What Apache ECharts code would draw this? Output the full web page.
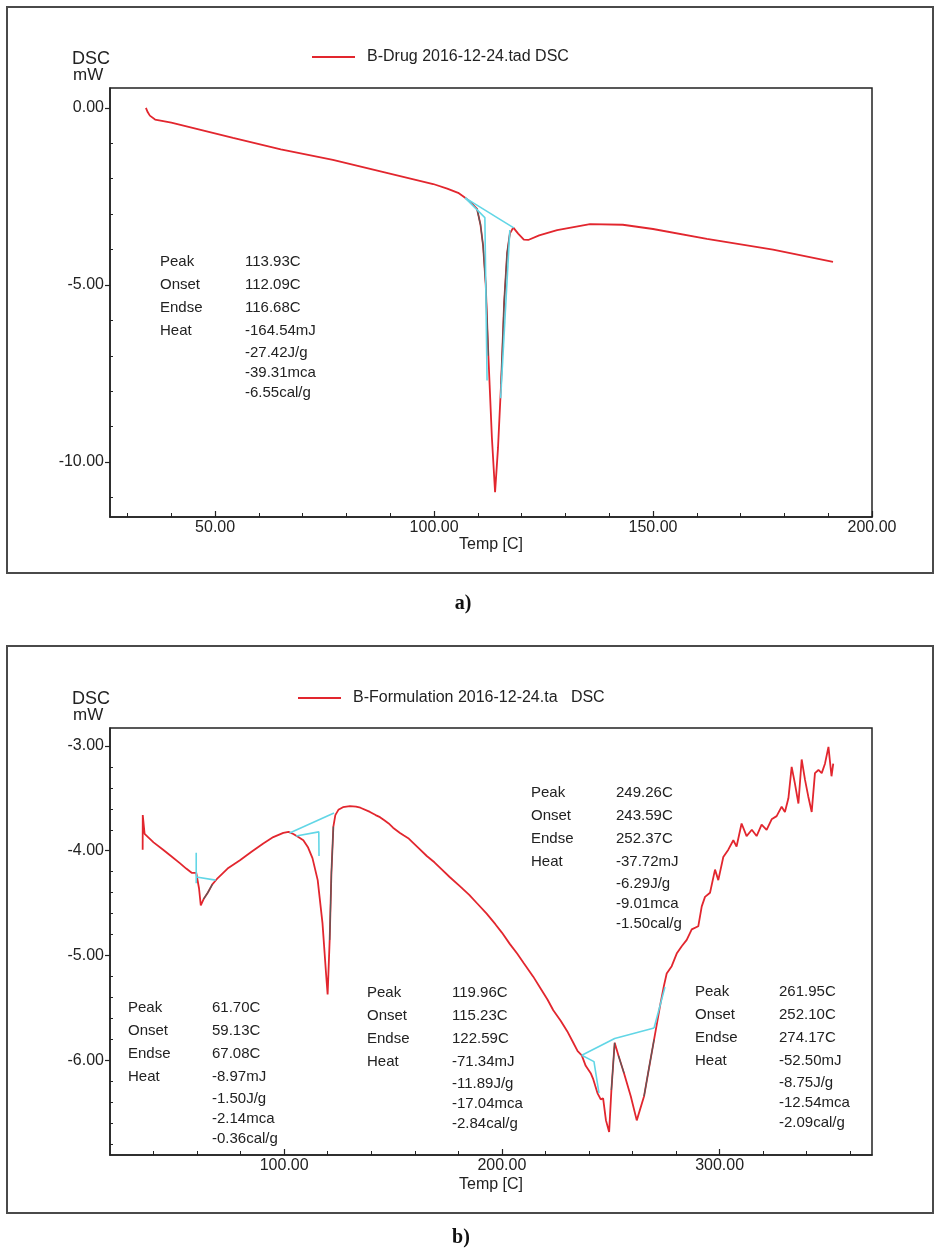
<!DOCTYPE html>
<html>
<head>
<meta charset="utf-8">
<title>DSC thermograms</title>
<script src="https://cdn.jsdelivr.net/npm/echarts@6/dist/echarts.min.js"></script>
<style>
html,body{margin:0;padding:0;background:#fff;}
#chart{width:940px;height:1254px;}
</style>
</head>
<body>
<div id="chart"></div>
<script>
// ---- pure drug trace: [temperature °C, heat flow mW] ----
const drugCurve = [
  [34.2,0.0],[34.6,-0.12],[35.1,-0.22],[36.3,-0.33],[40,-0.42],[54.1,-0.85],[65,-1.17],
  [76.9,-1.47],[88,-1.80],[99.8,-2.15],[103,-2.28],[105.5,-2.40],[107.1,-2.54],[108.5,-2.68],
  [109.8,-2.85],[110.6,-3.3],[111.2,-3.9],[111.8,-5.0],[112.4,-7.0],[113.2,-9.3],[113.93,-10.85],
  [114.6,-9.6],[115.3,-7.8],[116.0,-5.5],[116.68,-4.1],[117.3,-3.55],[118.1,-3.38],[119.2,-3.55],
  [120.5,-3.72],[121.5,-3.73],[124,-3.6],[128.1,-3.45],[135.6,-3.28],[143.1,-3.30],[150,-3.42],
  [162.3,-3.70],[177.4,-4.00],[191.1,-4.35]
];
// baseline and tangent constructions of the melting peak
const drugBaselines = [
  [[107.1,-2.54],[118.2,-3.39]],
  [[107.1,-2.54],[111.6,-3.1],[112.1,-7.7]],
  [[117.3,-3.45],[115.2,-8.2]]
];
// stretches of the trace inside the integration limits
const drugShadeRanges = [[109.8,112.4],[115.3,117.3]];
const drugPeakInfo = [
  ['Peak','113.93C'],['Onset','112.09C'],['Endse','116.68C'],['Heat','-164.54mJ'],
  ['','-27.42J/g'],['','-39.31mca'],['','-6.55cal/g']
];
const drugXLabels = [50,100,150,200];
const drugXMinor = [30,40,60,70,80,90,110,120,130,140,160,170,180,190];
const drugYLabels = [0,-5,-10];
const drugYMinor = [-11,-9,-8,-7,-6,-4,-3,-2,-1];

// ---- formulation trace: [temperature °C, heat flow mW] ----
const formulationCurve = [
  [35.0,-3.99],[35.05,-3.66],[35.9,-3.84],[40,-3.92],[44.4,-3.99],[48,-4.05],[52.2,-4.12],
  [55,-4.17],[57.5,-4.21],[59.6,-4.21],[60.9,-4.36],[61.7,-4.52],[63,-4.46],[64.9,-4.40],
  [67,-4.32],[69.5,-4.26],[74,-4.17],[79.7,-4.09],[85,-4.01],[90.4,-3.93],[95,-3.87],
  [99.6,-3.83],[102,-3.82],[104.2,-3.84],[106.5,-3.87],[108.8,-3.90],[111,-3.97],[113,-4.07],
  [115.4,-4.28],[117.6,-4.69],[119.2,-5.16],[119.96,-5.37],[120.9,-4.85],[121.7,-4.21],
  [122.6,-3.77],[123.5,-3.66],[124.9,-3.61],[127,-3.585],[130.2,-3.575],[133,-3.58],[135,-3.59],
  [139.4,-3.63],[142,-3.66],[144,-3.68],[146,-3.71],[148,-3.74],[150,-3.78],[153.2,-3.83],
  [155,-3.855],[157,-3.88],[159,-3.92],[162,-3.98],[165.5,-4.05],[169,-4.11],[172,-4.17],
  [176,-4.25],[180.8,-4.34],[185,-4.42],[189,-4.51],[193,-4.60],[197,-4.70],[200,-4.78],
  [203.7,-4.89],[207,-4.98],[210,-5.07],[214.4,-5.20],[218,-5.32],[221,-5.42],[223.6,-5.52],
  [227,-5.62],[230,-5.72],[232.8,-5.83],[234.8,-5.91],[236.7,-5.95],[238.5,-6.05],[240.8,-6.12],
  [242,-6.18],[243.9,-6.31],[245.4,-6.37],[246.5,-6.36],[247.8,-6.57],[249.26,-6.68],
  [250.3,-6.28],[251.8,-5.83],[253.5,-5.95],[256.1,-6.12],[259.2,-6.34],[261.95,-6.57],
  [265.3,-6.34],[267.5,-6.08],[269.9,-5.80],[272.9,-5.45],[274.4,-5.29],[275.7,-5.17],
  [278.0,-5.10],[280.3,-4.98],[282.6,-4.91],[284.9,-4.85],[287.2,-4.75],[290.2,-4.72],
  [291.8,-4.53],[293.3,-4.44],[295.6,-4.40],[297.9,-4.18],[299.4,-4.28],[301.7,-4.06],
  [304.0,-3.99],[306.3,-3.90],[307.8,-3.96],[310.1,-3.74],[312.4,-3.86],[314.8,-3.80],
  [317.0,-3.86],[319.3,-3.75],[321.6,-3.80],[323.9,-3.70],[326.2,-3.67],[328.5,-3.58],
  [330.0,-3.63],[331.6,-3.50],[333.1,-3.20],[334.6,-3.36],[336.2,-3.55],[337.7,-3.13],
  [339.2,-3.32],[340.7,-3.48],[342.3,-3.63],[343.8,-3.26],[345.4,-3.23],[346.9,-3.26],
  [348.4,-3.17],[350.0,-3.01],[351.4,-3.29],[352.2,-3.17]
];
const formulationBaselines = [
  [[59.6,-4.02],[59.6,-4.31]],
  [[59.7,-4.25],[68.5,-4.28]],
  [[102.5,-3.83],[122.9,-3.64]],
  [[105.5,-3.86],[115.9,-3.82],[116.0,-4.05]],
  [[236.7,-5.95],[251.8,-5.79],[269.9,-5.69]],
  [[236.7,-5.95],[242.3,-6.01],[244.6,-6.31]],
  [[269.9,-5.69],[274.9,-5.30]]
];
const formulationShadeRanges = [[62,67],[120.5,123],[250.0,251.8],[253.5,256.5],[265,270]];
const formulationPeakInfo = [
  [['Peak','61.70C'],['Onset','59.13C'],['Endse','67.08C'],['Heat','-8.97mJ'],
   ['','-1.50J/g'],['','-2.14mca'],['','-0.36cal/g']],
  [['Peak','119.96C'],['Onset','115.23C'],['Endse','122.59C'],['Heat','-71.34mJ'],
   ['','-11.89J/g'],['','-17.04mca'],['','-2.84cal/g']],
  [['Peak','249.26C'],['Onset','243.59C'],['Endse','252.37C'],['Heat','-37.72mJ'],
   ['','-6.29J/g'],['','-9.01mca'],['','-1.50cal/g']],
  [['Peak','261.95C'],['Onset','252.10C'],['Endse','274.17C'],['Heat','-52.50mJ'],
   ['','-8.75J/g'],['','-12.54mca'],['','-2.09cal/g']]
];
const formulationXLabels = [100,200,300];
const formulationXMinor = [40,60,80,120,140,160,180,220,240,260,280,320,340,360];
const formulationYLabels = [-3,-4,-5,-6];
const formulationYMinor = [-6.8,-6.6,-6.4,-6.2,-5.8,-5.6,-5.4,-5.2,-4.8,-4.6,-4.4,-4.2,
  -3.8,-3.6,-3.4,-3.2];

const drugName = 'B-Drug 2016-12-24.tad DSC';
const formulationName = 'B-Formulation 2016-12-24.ta   DSC';

// ---- styling ----
const FONT = '"Liberation Sans", Arial, sans-serif';
const INK = '#222';
const RED = '#e2262e';
const CYAN = '#62d6e6';
const SHADE = '#5a5a5a';

const chart = echarts.init(document.getElementById('chart'), null, {renderer: 'canvas'});

function valueAxis(gridIndex, min, max, opts) {
  return Object.assign({
    type: 'value', gridIndex: gridIndex, min: min, max: max,
    splitLine: {show: false}
  }, opts);
}

function majorX(gridIndex, min, max, labels, name, nameGap) {
  return valueAxis(gridIndex, min, max, {
    position: 'bottom',
    axisLine: {show: true, onZero: false, lineStyle: {color: INK, width: 1.5}},
    axisTick: {show: true, inside: true, length: 6, customValues: labels,
      lineStyle: {color: INK, width: 1.2}},
    axisLabel: {customValues: labels, margin: 3, fontSize: 16, fontFamily: FONT, color: INK,
      formatter: v => v.toFixed(2)},
    name: name, nameLocation: 'middle', nameGap: nameGap,
    nameTextStyle: {fontSize: 16, fontFamily: FONT, color: INK}
  });
}
function minorX(gridIndex, min, max, ticks) {
  return valueAxis(gridIndex, min, max, {
    position: 'bottom',
    axisLine: {show: false, onZero: false},
    axisTick: {show: true, inside: true, length: 4, customValues: ticks,
      lineStyle: {color: INK, width: 1}},
    axisLabel: {show: false}
  });
}
function majorY(gridIndex, min, max, labels) {
  return valueAxis(gridIndex, min, max, {
    position: 'left',
    axisLine: {show: true, onZero: false, lineStyle: {color: INK, width: 1.5}},
    axisTick: {show: true, inside: false, length: 5, customValues: labels,
      lineStyle: {color: INK, width: 1.2}},
    axisLabel: {customValues: labels, margin: 6, fontSize: 16, fontFamily: FONT, color: INK,
      formatter: v => v.toFixed(2)}
  });
}
function minorY(gridIndex, min, max, ticks) {
  return valueAxis(gridIndex, min, max, {
    position: 'left',
    axisLine: {show: false, onZero: false},
    axisTick: {show: true, inside: true, length: 3, customValues: ticks,
      lineStyle: {color: INK, width: 1}},
    axisLabel: {show: false}
  });
}

function lineSeries(name, data, xi, yi, color, width, z) {
  return {
    type: 'line', name: name, data: data, xAxisIndex: xi, yAxisIndex: yi,
    symbol: 'none', showSymbol: false, smooth: false, z: z, silent: true,
    lineStyle: {color: color, width: width}, itemStyle: {color: color}
  };
}
function shadeSeries(curve, ranges, xi, yi) {
  return ranges.map(r => lineSeries('', curve.filter(p => p[0] >= r[0] && p[0] <= r[1]),
    xi, yi, SHADE, 1.3, 3));
}
function baselineSeries(segments, xi, yi) {
  return segments.map(s => lineSeries('', s, xi, yi, CYAN, 1.6, 4));
}

// text block of peak evaluation results
const ROW_OFFSETS = [0, 23, 46, 69, 91, 111, 131];
function infoBlock(rows, labelX, valueX, topY) {
  const out = [];
  rows.forEach((r, i) => {
    const y = topY + ROW_OFFSETS[i];
    if (r[0]) out.push({type: 'text', x: labelX, y: y,
      style: {text: r[0], font: '15px ' + FONT, fill: INK, verticalAlign: 'middle'}});
    out.push({type: 'text', x: valueX, y: y,
      style: {text: r[1], font: '15px ' + FONT, fill: INK, verticalAlign: 'middle'}});
  });
  return out;
}
function unitLabel(x, y) {
  return [
    {type: 'text', x: x, y: y, style: {text: 'DSC', font: '18px ' + FONT, fill: INK, verticalAlign: 'middle'}},
    {type: 'text', x: x + 1, y: y + 16, style: {text: 'mW', font: '17px ' + FONT, fill: INK, verticalAlign: 'middle'}}
  ];
}
function frame(x, y, w, h) {
  return {type: 'rect', shape: {x: x, y: y, width: w, height: h}, silent: true,
    style: {fill: 'none', stroke: '#4a4a4a', lineWidth: 2}};
}
function caption(text, x, y) {
  return {type: 'text', x: x, y: y, style: {text: text, font: 'bold 20px "Liberation Serif", "Times New Roman", serif',
    fill: '#111', align: 'center', verticalAlign: 'middle'}};
}

const legendBase = {
  orient: 'horizontal', padding: 0, icon: 'rect', itemWidth: 43, itemHeight: 2,
  selectedMode: false,
  textStyle: {fontSize: 16, fontFamily: FONT, color: INK, padding: [0, 0, 0, 7]}
};

const option = {
  animation: false,
  backgroundColor: '#fff',
  grid: [
    {left: 110, top: 88, width: 762, height: 429, show: true, borderColor: INK, borderWidth: 1.5,
      backgroundColor: 'transparent'},
    {left: 110, top: 728, width: 762, height: 427, show: true, borderColor: INK, borderWidth: 1.5,
      backgroundColor: 'transparent'}
  ],
  legend: [
    Object.assign({}, legendBase, {data: [drugName], left: 312, top: 49}),
    Object.assign({}, legendBase, {data: [formulationName], left: 298, top: 690})
  ],
  xAxis: [
    majorX(0, 26, 200, drugXLabels, 'Temp [C]', 20),
    minorX(0, 26, 200, drugXMinor),
    majorX(1, 20, 370, formulationXLabels, 'Temp [C]', 22),
    minorX(1, 20, 370, formulationXMinor)
  ],
  yAxis: [
    majorY(0, -11.55, 0.56, drugYLabels),
    minorY(0, -11.55, 0.56, drugYMinor),
    majorY(1, -6.9, -2.83, formulationYLabels),
    minorY(1, -6.9, -2.83, formulationYMinor)
  ],
  series: [
    lineSeries(drugName, drugCurve, 0, 0, RED, 1.8, 2),
    ...shadeSeries(drugCurve, drugShadeRanges, 0, 0),
    ...baselineSeries(drugBaselines, 0, 0),
    lineSeries(formulationName, formulationCurve, 2, 2, RED, 1.8, 2),
    ...shadeSeries(formulationCurve, formulationShadeRanges, 2, 2),
    ...baselineSeries(formulationBaselines, 2, 2)
  ],
  graphic: [
    frame(7, 7, 926, 566),
    frame(7, 646, 926, 567),
    ...unitLabel(72, 59),
    ...unitLabel(72, 699),
    ...infoBlock(drugPeakInfo, 160, 245, 262),
    ...infoBlock(formulationPeakInfo[0], 128, 212, 1008),
    ...infoBlock(formulationPeakInfo[1], 367, 452, 993),
    ...infoBlock(formulationPeakInfo[2], 531, 616, 793),
    ...infoBlock(formulationPeakInfo[3], 695, 779, 992),
    caption('a)', 463, 604),
    caption('b)', 461, 1238)
  ]
};

chart.setOption(option);
</script>
</body>
</html>
